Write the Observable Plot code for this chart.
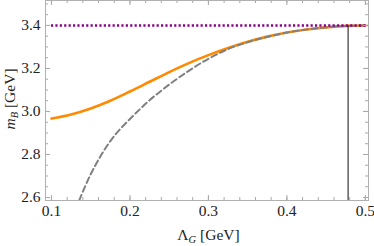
<!DOCTYPE html>
<html><head><meta charset="utf-8">
<script src="https://cdn.jsdelivr.net/npm/d3@7"></script>
<script src="https://cdn.jsdelivr.net/npm/@observablehq/plot@0.6"></script>
<style>body{margin:0;background:#fff} svg{display:block}</style>
</head><body><div id="chart"></div>
<script>
// Orange solid curve
const lamOrange = [0.1, 0.125, 0.15, 0.175, 0.2, 0.225, 0.25, 0.275, 0.3, 0.325, 0.35, 0.375, 0.4, 0.425, 0.45, 0.478, 0.5];
const mOrange   = [2.967, 2.986, 3.014, 3.05, 3.093, 3.138, 3.183, 3.225, 3.262, 3.295, 3.324, 3.348, 3.367, 3.381, 3.391, 3.398, 3.4];
// Gray dashed curve
const lamDashed = [0.1353, 0.15, 0.1625, 0.175, 0.1875, 0.2, 0.225, 0.25, 0.275, 0.3, 0.325, 0.35, 0.375, 0.4, 0.425, 0.45, 0.478, 0.5];
const mDashed   = [2.586, 2.708, 2.792, 2.862, 2.918, 2.965, 3.052, 3.125, 3.189, 3.245, 3.29, 3.322, 3.347, 3.367, 3.381, 3.391, 3.398, 3.4];
// Purple dotted horizontal reference
const lamDotted = [0.1, 0.504];
const mDotted = 3.4;
// Black vertical marker
const lamMarker = 0.478;
const markerTop = 3.4;

const xDomain = [0.0924, 0.504];
const yDomain = [2.586, 3.516];
const xMajor = [0.1, 0.2, 0.3, 0.4, 0.5];
const xMinor = [0.1, 0.12, 0.14, 0.16, 0.18, 0.2, 0.22, 0.24, 0.26, 0.28, 0.3, 0.32, 0.34, 0.36, 0.38, 0.4, 0.42, 0.44, 0.46, 0.48, 0.5];
const yMajor = [2.6, 2.8, 3.0, 3.2, 3.4];
const yMinor = [2.6, 2.65, 2.7, 2.75, 2.8, 2.85, 2.9, 2.95, 3.0, 3.05, 3.1, 3.15, 3.2, 3.25, 3.3, 3.35, 3.4, 3.45, 3.5];

const W = 374, H = 246, mL = 45, mR = 6, mT = 0, mB = 46;
const pw = W - mL - mR, ph = H - mT - mB;
const orange = lamOrange.map((x, i) => ({x, y: mOrange[i]}));
const dashed = lamDashed.map((x, i) => ({x, y: mDashed[i]}));
const tickCol = "#a8a8a8";
const serif = '"Liberation Serif", "Times New Roman", serif';

const plot = Plot.plot({
  width: W, height: H, marginLeft: mL, marginRight: mR, marginTop: mT, marginBottom: mB,
  style: `font-family: ${serif}; font-size: 15.5px; background: #fff; color: #222;`,
  x: {domain: xDomain},
  y: {domain: yDomain},
  marks: [
    Plot.lineY(orange, {x: "x", y: "y", stroke: "#ff8a00", strokeWidth: 2.6, curve: "monotone-x", clip: true}),
    Plot.lineY(dashed, {x: "x", y: "y", stroke: "#808080", strokeWidth: 2, strokeDasharray: "6,3.5", curve: "monotone-x", clip: true}),
    Plot.ruleY([mDotted], {x1: lamDotted[0], x2: lamDotted[1], stroke: "#8b008b", strokeWidth: 2.4, strokeDasharray: "2.2,2.2"}),
    Plot.ruleX([lamMarker], {y1: yDomain[0], y2: markerTop, stroke: "#111", strokeWidth: 1}),
    // inner ticks
    Plot.tickX(xMinor, {x: d => d, insetTop: ph - 3, stroke: tickCol}),
    Plot.tickX(xMajor, {x: d => d, insetTop: ph - 5, stroke: tickCol}),
    Plot.tickX(xMinor, {x: d => d, insetBottom: ph - 3, stroke: tickCol}),
    Plot.tickX(xMajor, {x: d => d, insetBottom: ph - 5, stroke: tickCol}),
    Plot.tickY(yMinor, {y: d => d, insetRight: pw - 3, stroke: tickCol}),
    Plot.tickY(yMajor, {y: d => d, insetRight: pw - 5, stroke: tickCol}),
    Plot.tickY(yMinor, {y: d => d, insetLeft: pw - 3, stroke: tickCol}),
    Plot.tickY(yMajor, {y: d => d, insetLeft: pw - 5, stroke: tickCol}),
    Plot.frame({stroke: "#b0b0b0", strokeWidth: 1}),
    Plot.axisX({ticks: xMajor, tickSize: 0, tickPadding: 4, tickFormat: d => d.toFixed(1), label: null, fill: "#222", fontSize: 15.5, fontFamily: serif}),
    Plot.axisY({ticks: yMajor, tickSize: 0, tickPadding: 5, tickFormat: d => d.toFixed(1), label: null, fill: "#222", fontSize: 15.5, fontFamily: serif})
  ]
});
document.getElementById("chart").appendChild(plot);

// Axis titles with subscripts
const svg = d3.select(plot);
const xt = svg.append("text")
  .attr("x", 208.5).attr("y", 240)
  .attr("text-anchor", "middle")
  .style("font-family", serif).style("font-size", "15.5px").attr("fill", "#222");
xt.append("tspan").text("Λ");
xt.append("tspan").text("G").attr("font-style", "italic").attr("font-size", "10.5px").attr("dy", 3);
xt.append("tspan").text(" [GeV]").attr("dy", -3);

const yt = svg.append("text")
  .attr("transform", `translate(15,99) rotate(-90)`)
  .attr("text-anchor", "middle")
  .style("font-family", serif).style("font-size", "15.5px").attr("fill", "#222");
yt.append("tspan").text("m").attr("font-style", "italic");
yt.append("tspan").text("B").attr("font-style", "italic").attr("font-size", "10.5px").attr("dy", 3);
yt.append("tspan").text(" [GeV]").attr("dy", -3);
</script>
</body></html>
